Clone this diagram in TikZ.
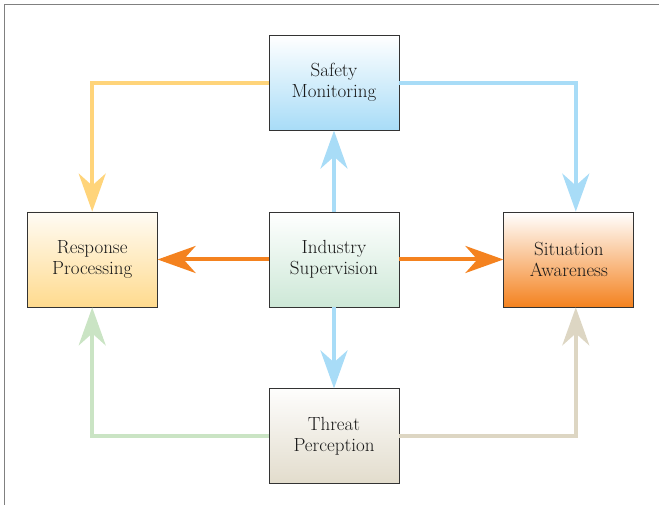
\documentclass[tikz,border=0pt]{standalone}
\usepackage{tikz}
\usetikzlibrary{arrows.meta,positioning}
\definecolor{skyblue}{HTML}{A8DCF7}
\definecolor{sunyellow}{HTML}{FFD47A}
\definecolor{leafgreen}{HTML}{CAE4C4}
\definecolor{mint}{HTML}{CDE8D7}
\definecolor{sandbeige}{HTML}{DDD6C3}
\definecolor{flame}{HTML}{F4821F}

\begin{document}
\begin{tikzpicture}[x=1pt,y=1pt,node distance=81pt and 111pt]

\tikzset{box/.style={draw=black!80,line width=0.8pt,inner sep=0pt,minimum width=130pt,minimum height=95pt,align=center,font=\fontsize{19}{21}\selectfont,text=black!90,shading=axis,execute at begin node={\rule{0pt}{20pt}}},
flow/.style={line width=4pt,-{Stealth[length=38pt,width=27pt,inset=12pt]}}}

% Frame
\useasboundingbox (0,0) rectangle (659,505);
\draw[gray,line width=1pt] (4,0) -- (4,500) -- (659,500);

% boxes
\node[box,top color=white,bottom color=mint] (super) at (334,245.5) {Industry\\Supervision};
\node[box,top color=white,bottom color=skyblue] (safety) [above=of super] {Safety\\Monitoring};
\node[box,top color=white!96!sandbeige,bottom color=sandbeige!85] (threat) [below=of super] {Threat\\Perception};
\node[box,top color=sunyellow!8,bottom color=sunyellow!85] (resp) [left=of super] {Response\\Processing};
\node[box,top color=white,bottom color=flame] (sit) [right=104pt of super] {Situation\\Awareness};

% Straight edges
\foreach \x in {safety,threat} \draw[flow,skyblue] (super) -- (\x);
\foreach \x in {resp,sit} \draw[flow,flame] (super) -- (\x);

% Corner edges
\draw[flow,sunyellow] (safety.west) -| (resp);
\draw[flow,skyblue] (safety.east) -| ([xshift=7pt]sit.north);
\draw[flow,leafgreen] (threat.west) -| (resp);
\draw[flow,sandbeige] (threat.east) -| ([xshift=7pt]sit.south);

\end{tikzpicture}
\end{document}
